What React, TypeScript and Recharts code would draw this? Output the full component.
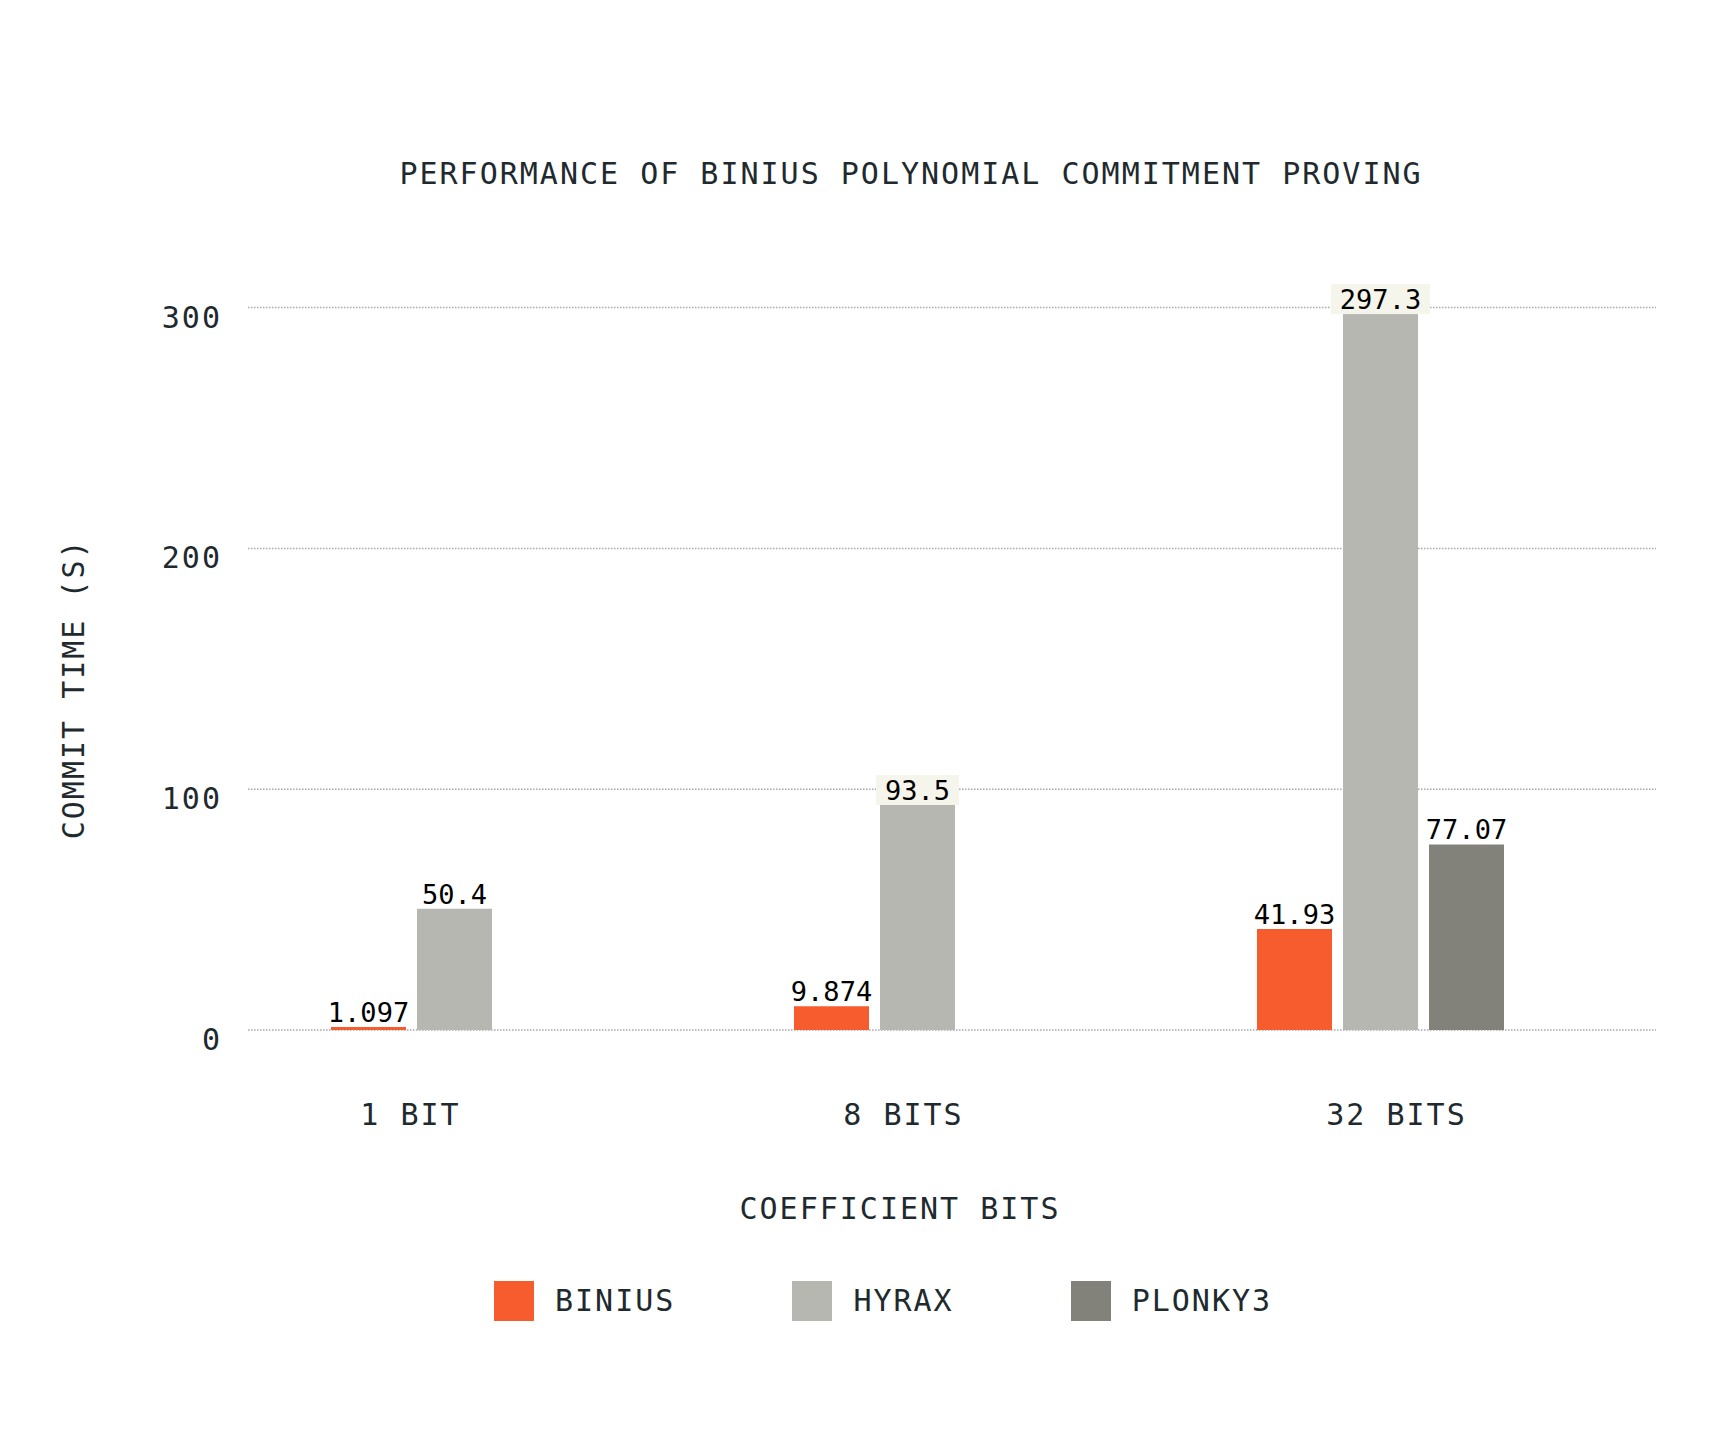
import React from 'react';
import { BarChart, Bar, XAxis, YAxis, CartesianGrid, LabelList, Legend, Label } from 'recharts';

const categories = ['1 BIT', '8 BITS', '32 BITS'];
const biniusValues: (number | null)[] = [1.097, 9.874, 41.93];
const hyraxValues: (number | null)[] = [50.4, 93.5, 297.3];
const plonky3Values: (number | null)[] = [null, null, 77.07];
const yTicks = [0, 100, 200, 300];

const seriesList = [
  { key: 'binius', name: 'BINIUS', color: '#F65C2E', values: biniusValues },
  { key: 'hyrax', name: 'HYRAX', color: '#B6B7B0', values: hyraxValues },
  { key: 'plonky3', name: 'PLONKY3', color: '#82827B', values: plonky3Values },
];

const data = categories.map((name, i) => {
  const row: any = { name };
  seriesList.forEach((s) => {
    row[s.key] = s.values[i];
  });
  return row;
});

const FONT = '"DejaVu Sans Mono", "Liberation Mono", monospace';
const TEXT = '#1E2A2E';

const ValueLabel = (props: any) => {
  const vb = props.viewBox || {};
  const x = vb.x ?? props.x;
  const y = vb.y ?? props.y;
  const width = vb.width ?? props.width;
  const height = vb.height ?? props.height;
  const value = props.value;
  if (value == null || x == null || y == null) return null;
  const text = String(value);
  const fs = 27;
  const cx = x + width / 2;
  const baseline = y - 5;
  const textW = text.length * fs * 0.602;
  const pxPerUnit = value > 0 && height > 0 ? height / value : 2.4;
  const topUnits = value + (5 + 24) / pxPerUnit;
  const crosses = yTicks.some((t) => t > value && t < topUnits);
  return (
    <g>
      {crosses && (
        <rect
          x={cx - textW / 2 - 9}
          y={baseline - 25}
          width={textW + 18}
          height={y - baseline + 25}
          fill="#F5F5EB"
        />
      )}
      <text x={cx} y={baseline} textAnchor="middle" fontFamily={FONT} fontSize={fs} fill="#000">
        {text}
      </text>
    </g>
  );
};

const YTick = (p: any) => (
  <text
    x={p.x}
    y={p.y + 20}
    textAnchor="end"
    fontFamily={FONT}
    fontSize={30}
    letterSpacing={2}
    fill={TEXT}
  >
    {p.payload.value}
  </text>
);

const XTick = (p: any) => (
  <text
    x={p.x + 1}
    y={p.y + 65}
    textAnchor="middle"
    fontFamily={FONT}
    fontSize={30}
    letterSpacing={2}
    fill={TEXT}
  >
    {p.payload.value}
  </text>
);

const XLabel = (p: any) => {
  const vb = p.viewBox || {};
  return (
    <text
      x={vb.x + vb.width / 2 - 52}
      y={vb.y + 159}
      textAnchor="middle"
      fontFamily={FONT}
      fontSize={30}
      letterSpacing={2}
      fill={TEXT}
    >
      COEFFICIENT BITS
    </text>
  );
};

const YLabel = (p: any) => {
  const vb = p.viewBox || {};
  return (
    <text
      transform={`translate(${vb.x + 84}, ${vb.y + vb.height / 2 + 20}) rotate(-90)`}
      x={0}
      y={0}
      textAnchor="middle"
      fontFamily={FONT}
      fontSize={30}
      letterSpacing={2}
      fill={TEXT}
    >
      COMMIT TIME (S)
    </text>
  );
};

const LegendContent = () => (
  <div
    style={{
      display: 'flex',
      alignItems: 'center',
      paddingLeft: 494,
      height: 40,
      fontFamily: FONT,
      fontSize: 30,
      letterSpacing: 2,
      color: TEXT,
    }}
  >
    {seriesList.map((s) => (
      <div key={s.key} style={{ display: 'flex', alignItems: 'center', marginRight: 117 }}>
        <div style={{ width: 40, height: 40, background: s.color, marginRight: 21 }} />
        <span style={{ lineHeight: '40px', whiteSpace: 'nowrap' }}>{s.name}</span>
      </div>
    ))}
  </div>
);

export default function App() {
  return (
    <div style={{ position: 'absolute', left: 0, top: 0, width: 1728, height: 1444, background: '#fff' }}>
      <svg
        width={1728}
        height={1444}
        style={{ position: 'absolute', left: 0, top: 0, pointerEvents: 'none' }}
      >
        <text
          x={911}
          y={184}
          textAnchor="middle"
          fontFamily={FONT}
          fontSize={30}
          letterSpacing={2}
          fill={TEXT}
        >
          PERFORMANCE OF BINIUS POLYNOMIAL COMMITMENT PROVING
        </text>
      </svg>
      <BarChart
        width={1728}
        height={1444}
        data={data}
        margin={{ top: 307.6, right: 72, bottom: 20, left: 0 }}
        barSize={75}
        barGap={11}
      >
        <CartesianGrid vertical={false} stroke="#A8A8A8" strokeWidth={1.5} strokeDasharray="1.5 1.5" />
        <XAxis
          xAxisId="labels"
          dataKey="name"
          type="category"
          height={354}
          padding={{ left: -85, right: 14 }}
          axisLine={false}
          tickLine={false}
          tickSize={0}
          tickMargin={0}
          tick={<XTick />}
          interval={0}
          label={<Label content={<XLabel />} />}
        />
        <XAxis dataKey="name" type="category" hide padding={{ left: -25, right: 44 }} />
        <YAxis
          width={248}
          domain={[0, 300]}
          ticks={yTicks}
          axisLine={false}
          tickLine={false}
          tickSize={0}
          tickMargin={26}
          tick={<YTick />}
          label={<Label content={<YLabel />} />}
        />
        <Legend verticalAlign="bottom" content={<LegendContent />} wrapperStyle={{ left: 0, top: 1281, bottom: 'auto', width: 1728, height: 40 }} />
        {seriesList.map((s) => (
          <Bar
            key={s.key}
            dataKey={s.key}
            name={s.name}
            fill={s.color}
            isAnimationActive={false}
            minPointSize={s.key === 'binius' ? 3 : 0}
          >
            <LabelList dataKey={s.key} content={<ValueLabel />} />
          </Bar>
        ))}
      </BarChart>
    </div>
  );
}
